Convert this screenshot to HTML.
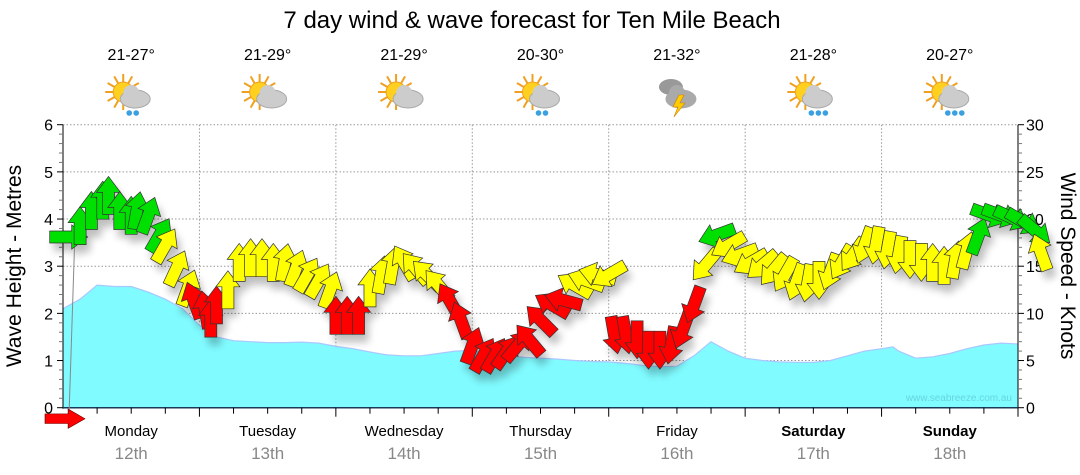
<!DOCTYPE html>
<html><head><meta charset="utf-8"><style>
html,body{margin:0;padding:0;background:#fff;width:1080px;height:475px;overflow:hidden}
svg{display:block;font-family:"Liberation Sans",sans-serif}
</style></head><body>
<svg id="chart" width="1080" height="475" viewBox="0 0 1080 475" xmlns="http://www.w3.org/2000/svg">
<defs><filter id="sh" x="-50%" y="-50%" width="200%" height="200%"><feGaussianBlur stdDeviation="4"/></filter></defs>
<text x="532" y="28" font-size="24" text-anchor="middle" fill="#000">7 day wind &amp; wave forecast for Ten Mile Beach</text>
<g id="grid"></g>
<g id="wave"></g>
<g id="axes"></g>
<text x="1012" y="401" font-size="10" text-anchor="end" fill="#66d6dd">www.seabreeze.com.au</text>
<g id="shadows" filter="url(#sh)" opacity="0.25"></g>
<g id="arrows"></g>
<g id="days"></g>
<g id="icons"></g>
<text transform="translate(21,266) rotate(-90)" font-size="21" text-anchor="middle">Wave Height - Metres</text>
<text transform="translate(1061,266) rotate(90)" font-size="21" text-anchor="middle">Wind Speed - Knots</text>
</svg>
<script>
const dayNames=["Monday","Tuesday","Wednesday","Thursday","Friday","Saturday","Sunday"];
const dayDates=["12th","13th","14th","15th","16th","17th","18th"];
const tempRanges=["21-27°","21-29°","21-29°","20-30°","21-32°","21-28°","20-27°"];
const iconTypes=["rain","cloud","cloud","rain","storm","shower","shower"];
const waveHours=[0,3,5,6,9,12,15,18,21,24,27,30,33,36,39,42,45,48,51,54,57,60,63,66,69,72,75,78,81,84,87,90,93,96,99,102,105,108,111,114,117,120,123,126,129,132,135,138,141,144,146,147,150,153,156,159,162,165,168];
const waveHeights=[2.1,2.3,2.5,2.6,2.57,2.57,2.45,2.3,2.1,1.75,1.5,1.42,1.4,1.38,1.38,1.39,1.37,1.3,1.25,1.18,1.12,1.1,1.1,1.15,1.2,1.22,1.15,1.1,1.07,1.05,1.03,1.0,0.98,0.97,0.94,0.9,0.87,0.88,1.1,1.4,1.2,1.05,1.0,0.97,0.96,0.96,1.0,1.1,1.2,1.25,1.29,1.2,1.05,1.08,1.15,1.25,1.33,1.37,1.35];
const windHours=[1,3,5,7,8,10,12,13,15,17,18,20,22,23,25,26,27,29,31,33,35,37,39,41,43,45,47,48,50,52,54,56,58,60,62,64,66,68,70,72,74,76,78,80,82,84,86,88,90,92,94,96,97,99,101,103,105,107,109,111,113,115,117,119,121,123,125,127,129,131,133,135,137,139,141,143,145,147,149,151,153,155,157,159,161,163,165,167,169,171,172];
const windSpeeds=[18.1,19.3,20.9,22,22.5,20.9,20.4,20.9,20.4,18.3,17.2,14.8,12.7,11.4,10.4,9.5,10.9,12.5,15.4,15.9,15.9,15.4,15.4,14.8,14.1,13.5,12.5,9.8,9.8,9.8,12.7,14.1,15.1,15.4,14.8,14.1,13,11.4,9.3,6.6,5.6,5.6,5.9,6.6,7.2,9.3,10.9,11.4,13,13.5,14.1,14.1,7.7,7.7,7.2,6.1,6.1,6.6,8.2,10.9,15.1,18.3,17.2,16.2,15.4,15.1,14.6,14.1,13.3,13.2,13.5,14.4,15.4,16.2,17.2,17.2,16.7,16.2,15.7,15.4,15.4,15.1,15.7,16.7,18.2,20.4,20.4,20.1,19.7,18.8,16.5];
const windDirs=[90,0,0,0,0,0,0,10,20,30,30,25,20,-20,-10,0,0,0,0,0,0,0,10,20,30,30,20,0,0,0,0,10,10,-30,-40,-45,-40,-30,-20,20,30,30,35,40,-40,-45,-60,-75,-60,-70,-75,-120,170,170,180,180,180,190,200,200,220,250,240,250,240,230,220,210,200,190,180,200,210,215,200,190,190,190,180,180,0,0,10,15,20,110,110,115,120,130,-20];
const leftTicks=[0,1,2,3,4,5,6];
const rightTicks=[0,5,10,15,20,25,30];

const NS="http://www.w3.org/2000/svg";
const X0=63,X1=1018,Y0=407.7,Y1=124.7;
const xH=h=>X0+h*(X1-X0)/168;
const yM=m=>Y0-m*(Y0-Y1)/6;
const yK=k=>Y0-k*(Y0-Y1)/30;
function mk(tag,attrs,parent){const e=document.createElementNS(NS,tag);for(const k in attrs)e.setAttribute(k,attrs[k]);parent.appendChild(e);return e;}
const grid=document.getElementById('grid'),axes=document.getElementById('axes');
leftTicks.forEach(m=>{if(m>0){const l=mk('line',{x1:X0,x2:X1,y1:yM(m),y2:yM(m),stroke:'#999','stroke-dasharray':'1.5,2','stroke-width':1},grid);

}});
for(let d=1;d<7;d++){const l=mk('line',{x1:xH(d*24),x2:xH(d*24),y1:Y1,y2:Y0,stroke:'#999','stroke-dasharray':'1.5,2'},grid);

}
let pts=`M${xH(0)},${Y0} `+waveHours.map((h,i)=>`L${xH(h).toFixed(1)},${yM(waveHeights[i]).toFixed(1)}`).join(' ')+` L${xH(168)},${Y0} Z`;
const wa=mk('path',{d:pts,fill:'#80fbff',stroke:'none'},document.getElementById('wave'));


const wl=mk('path',{d:waveHours.map((h,i)=>`${i?'L':'M'}${xH(h).toFixed(1)},${yM(waveHeights[i]).toFixed(1)}`).join(' '),fill:'none',stroke:'#a9c8ff','stroke-width':1.2},document.getElementById('wave'));


mk('line',{x1:X0,x2:X0,y1:Y1,y2:Y0+1,stroke:'#000'},axes);
mk('line',{x1:X1,x2:X1,y1:Y1,y2:Y0+1,stroke:'#000'},axes);
mk('line',{x1:X0,x2:X1,y1:Y0,y2:Y0,stroke:'#1a3a5a','stroke-width':1.5},axes);
for(let i=0;i<=30;i++){const y=Y0-i*(Y0-Y1)/30;const big=i%5===0;
mk('line',{x1:X0-(big?6:4),x2:X0,y1:y,y2:y,stroke:big?'#000':'#777'},axes);
mk('line',{x1:X1,x2:X1+(big?6:4),y1:y,y2:y,stroke:big?'#000':'#777'},axes);}
leftTicks.forEach(m=>{const t=mk('text',{x:X0-10,y:yM(m)+6,'font-size':16,'text-anchor':'end'},axes);t.textContent=m;

});
rightTicks.forEach(k=>{const t=mk('text',{x:X1+8,y:yK(k)+6,'font-size':16},axes);t.textContent=k;

});
for(let h=6;h<=168;h+=6){const big=h%24===0;mk('line',{x1:xH(h),x2:xH(h),y1:Y0,y2:Y0+(big?9:6),stroke:'#000'},axes);}
const days=document.getElementById('days');
dayNames.forEach((n,i)=>{const cx=xH(i*24+12);
const t=mk('text',{x:cx,y:436,'font-size':15,'text-anchor':'middle','font-weight':i>=5?'bold':'normal'},days);t.textContent=n;


const d=mk('text',{x:cx,y:459,'font-size':17,'text-anchor':'middle',fill:'#888'},days);d.textContent=dayDates[i];


const tp=mk('text',{x:cx,y:60,'font-size':16,'text-anchor':'middle'},days);tp.textContent=tempRanges[i];

});
const icons=document.getElementById('icons');
iconTypes.forEach((tp,i)=>{const cx=xH(i*24+12);const g=mk('g',{transform:`translate(${cx},97)`},icons);


if(tp!=='storm'){for(let a=0;a<12;a++){const r=a*Math.PI/6;mk('line',{x1:-8+Math.cos(r)*10,y1:-5+Math.sin(r)*10,x2:-8+Math.cos(r)*18,y2:-5+Math.sin(r)*18,stroke:'#f0a020','stroke-width':2},g);}
mk('circle',{cx:-8,cy:-5,r:10,fill:'#ffd020',stroke:'#f0a020'},g);}
const cf=tp==='storm'?'#aaa':'#ccc';
if(tp==='storm'){mk('ellipse',{cx:-6,cy:-10,rx:12,ry:8,fill:'#999'},g);}
mk('ellipse',{cx:4,cy:2,rx:15,ry:9,fill:cf,stroke:'#aaa'},g);
mk('circle',{cx:0,cy:-4,r:8,fill:cf},g);
if(tp==='storm')mk('path',{d:'M2,-2 L-4,10 L1,10 L-3,20 L8,6 L3,6 L7,-2 Z',fill:'#ffcc00',stroke:'#d08000','stroke-width':0.6},g);
else if(tp!=='cloud'){const n=tp==='shower'?3:2;for(let k=0;k<n;k++)mk('circle',{cx:-2+k*7,cy:16,r:2.8,fill:'#3aa0e0'},g);}
});
const arrows=document.getElementById('arrows'),shadows=document.getElementById('shadows');
const ap='M-6,19 L-6,-3 L-12,-3 L0,-19 L12,-3 L6,-3 L6,19 Z';
const c0=mk('line',{x1:xH(0)+6,y1:yK(0)+8,x2:xH(windHours[0])+6,y2:yK(windSpeeds[0])+4,stroke:'#888'},arrows);


const a0=mk('path',{d:ap,transform:`translate(${xH(0)+2},${Y0+11}) rotate(90) scale(0.8,1.05)`,fill:'#ff0000',stroke:'#600','stroke-width':0.7},arrows);


windHours.forEach((h,i)=>{const s=windSpeeds[i];const col=s<12?'#ff0000':(s<18?'#ffff00':'#00e000');
const tr=`translate(${xH(h).toFixed(1)},${yK(s).toFixed(1)}) rotate(${windDirs[i]})`;
mk('path',{d:ap,transform:`translate(4,8) `+tr,fill:'#000'},shadows);
const a=mk('path',{d:ap,transform:tr,fill:col,stroke:'#333','stroke-width':0.7},arrows);

});
</script>
</body></html>
